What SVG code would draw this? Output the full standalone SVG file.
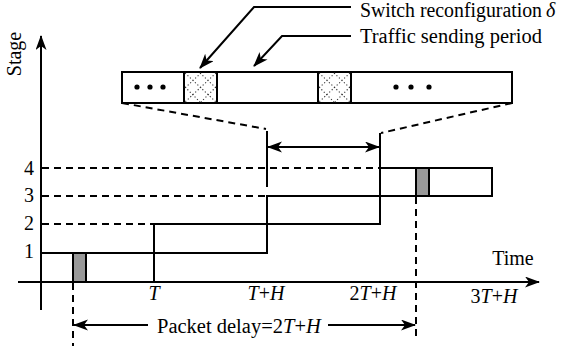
<svg xmlns="http://www.w3.org/2000/svg" xmlns:xlink="http://www.w3.org/1999/xlink" width="566" height="353" viewBox="0 0 566 353">
<style>
  text { font-family: "Liberation Serif", "Times New Roman", serif; font-size: 20px; fill: #000; }
  .it { font-style: italic; }
  .ln { stroke: #000; stroke-width: 2; fill: none; }
  .box { stroke: #000; stroke-width: 2; fill: #fff; }
  .dash { stroke: #000; stroke-width: 2; fill: none; stroke-dasharray: 7 5; }
  .pkt { stroke: #000; stroke-width: 2; fill: #999; }
  .hatch { stroke: #333; stroke-width: 1.1; stroke-dasharray: 1.2 2.2; fill: none; }
  .arr { stroke: #000; stroke-width: 2; fill: none; marker-end: url(#ah); }
  .arr2 { stroke: #000; stroke-width: 2; fill: none; marker-end: url(#ah); marker-start: url(#ahs); }
</style>
<defs>
  <marker id="ah" markerUnits="userSpaceOnUse" markerWidth="17" markerHeight="13" refX="14" refY="5.5" orient="auto">
    <path d="M0,0 L15,5.5 L0,11 L4,5.5 Z" fill="#000"/>
  </marker>
  <marker id="ahs" markerUnits="userSpaceOnUse" markerWidth="17" markerHeight="13" refX="14" refY="5.5" orient="auto-start-reverse">
    <path d="M0,0 L15,5.5 L0,11 L4,5.5 Z" fill="#000"/>
  </marker>
  <g id="hatchbox">
    <rect class="box" x="0" y="0" width="33" height="31"/>
    <path class="hatch" d="M1,1 L32,30 M32,1 L1,30 M16,1 L32,16 M1,15 L16,30 M17,1 L1,16 M32,15 L17,30"/>
  </g>
</defs>

<g id="axes">
  <line class="arr" x1="41" y1="310" x2="41" y2="36"/>
  <line class="arr" x1="18" y1="282" x2="539" y2="282"/>
  <text transform="translate(21,54) rotate(-90)" text-anchor="middle">Stage</text>
  <text x="513" y="265" text-anchor="middle">Time</text>
</g>

<g id="stage-labels">
  <text x="34" y="175" text-anchor="end">4</text>
  <text x="34" y="202" text-anchor="end">3</text>
  <text x="34" y="230" text-anchor="end">2</text>
  <text x="34" y="258" text-anchor="end">1</text>
</g>

<g id="time-labels">
  <text x="154" y="300" text-anchor="middle" class="it">T</text>
  <text x="266" y="300" text-anchor="middle"><tspan class="it">T</tspan>+<tspan class="it">H</tspan></text>
  <text x="373" y="300" text-anchor="middle">2<tspan class="it">T</tspan>+<tspan class="it">H</tspan></text>
  <text x="494" y="303" text-anchor="middle">3<tspan class="it">T</tspan>+<tspan class="it">H</tspan></text>
</g>

<g id="stage1">
  <rect class="box" x="41" y="253" width="113" height="29"/>
  <rect class="pkt" x="73" y="253" width="13" height="29"/>
</g>
<g id="stage2">
  <rect class="box" x="154" y="224" width="113" height="29"/>
</g>
<g id="stage3">
  <rect class="box" x="267" y="196" width="113" height="28"/>
</g>
<g id="stage4">
  <rect class="box" x="380" y="168" width="112" height="28"/>
  <rect class="pkt" x="416" y="168" width="13" height="28"/>
</g>

<g id="period-bar">
  <rect class="box" x="122" y="72" width="390" height="31"/>
  <use xlink:href="#hatchbox" x="184" y="72"/>
  <use xlink:href="#hatchbox" x="318" y="72"/>
  <circle cx="137" cy="87" r="2.6"/>
  <circle cx="150" cy="87" r="2.6"/>
  <circle cx="163" cy="87" r="2.6"/>
  <circle cx="396" cy="87" r="2.6"/>
  <circle cx="411" cy="87" r="2.6"/>
  <circle cx="429" cy="87" r="2.6"/>
</g>

<g id="top-labels">
  <text x="360" y="17" textLength="182" lengthAdjust="spacingAndGlyphs">Switch reconfiguration</text>
  <text x="546" y="17" class="it">δ</text>
  <text x="360" y="43" textLength="182" lengthAdjust="spacingAndGlyphs">Traffic sending period</text>
</g>

<g id="connectors">
  <polyline class="arr" points="351,7 254,7 200,68"/>
  <polyline class="arr" points="351,36 282,36 254,66"/>
  <line class="dash" x1="122" y1="103" x2="266" y2="129"/>
  <line class="dash" x1="512" y1="103" x2="381" y2="133"/>
  <line class="ln" x1="267" y1="131" x2="267" y2="187"/>
  <line class="ln" x1="380" y1="133" x2="380" y2="168"/>
  <line class="arr2" x1="268" y1="147" x2="379" y2="147"/>
  <line class="dash" x1="42" y1="168" x2="380" y2="168"/>
  <line class="dash" x1="42" y1="196" x2="267" y2="196"/>
  <line class="dash" x1="42" y1="224" x2="154" y2="224"/>
  <line class="dash" x1="73" y1="283" x2="73" y2="346"/>
  <line class="dash" x1="416" y1="197" x2="416" y2="340"/>
  <line class="arr" x1="148" y1="325" x2="74" y2="325"/>
  <line class="arr" x1="328" y1="325" x2="415" y2="325"/>
  <text x="157" y="333" style="font-size:20.5px">Packet delay=2<tspan class="it">T</tspan>+<tspan class="it">H</tspan></text>
</g>
</svg>
